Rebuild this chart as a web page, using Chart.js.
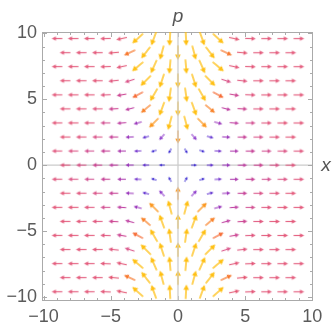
<!DOCTYPE html>
<html>
<head>
<meta charset="utf-8">
<script src="https://cdn.jsdelivr.net/npm/chart.js@4/dist/chart.umd.min.js"></script>
<style>
  html, body { margin: 0; background: #fff; }
  #wrap { width: 332px; height: 330px; }
</style>
</head>
<body>
<div id="wrap"><canvas id="field"></canvas></div>
<script>
// row heights (p), top to bottom
const rowP = [9.6, 8.53, 7.47, 6.4, 5.33, 4.27, 3.2, 2.13, 1.07, 0,
              -1.07, -2.13, -3.2, -4.27, -5.33, -6.4, -7.47, -8.53, -9.6];
// staggered columns: even rows use colsA, odd rows colsB
const colsA = [-9, -7.8, -6.6, -5.4, -4.2, -3, -1.8, -0.6, 0.6, 1.8, 3, 4.2, 5.4, 6.6, 7.8, 9];
const colsB = [-8.4, -7.2, -6, -4.8, -3.6, -2.4, -1.2, 0, 1.2, 2.4, 3.6, 4.8, 6, 7.2, 8.4];

// arrow direction in degrees (0 = +x, 90 = +p)
const angleRows = [
  [180,180,180,182,192,222,250,267,273,290,318,348,358,0,0,0],
  [180,180,180,185,205,232,255,270,285,308,335,355,0,0,0],
  [180,180,180,182,192,220,246,265,275,294,320,348,358,0,0,0],
  [180,180,180,186,198,225,252,270,288,315,342,354,0,0,0],
  [180,180,180,182,190,208,240,262,278,300,332,350,358,0,0,0],
  [180,180,180,183,195,220,250,270,290,320,345,357,0,0,0],
  [180,180,180,180,184,195,225,255,285,315,345,356,0,0,0,0],
  [180,180,180,180,183,195,228,270,312,345,357,0,0,0,0],
  [180,180,180,180,180,183,198,240,300,342,357,0,0,0,0,0],
  [180,180,180,180,180,180,180,null,0,0,0,0,0,0,0],
  [180,180,180,180,180,177,162,120,60,18,3,0,0,0,0,0],
  [180,180,180,180,177,165,132,90,48,15,3,0,0,0,0],
  [180,180,180,180,176,165,135,105,75,45,15,4,0,0,0,0],
  [180,180,180,177,165,140,110,90,70,40,15,3,0,0,0],
  [180,180,180,178,170,152,120,98,82,60,28,10,2,0,0,0],
  [180,180,180,174,162,135,108,90,72,45,18,6,0,0,0],
  [180,180,180,178,168,140,114,95,85,66,40,12,2,0,0,0],
  [180,180,180,175,155,128,105,90,75,52,25,5,0,0,0],
  [180,180,180,178,168,138,110,93,87,70,42,12,2,0,0,0]
];

// relative magnitude (0 = smallest/blue, 1 = largest/yellow)
const levelRows = [
  [.6,.6,.6,.6,.62,1,1,1,1,1,1,.62,.6,.6,.6,.6],
  [.6,.6,.6,.62,.78,1,1,1,1,1,.78,.62,.6,.6,.6],
  [.6,.6,.6,.6,.6,1,1,1,1,1,1,.6,.6,.6,.6,.6],
  [.6,.6,.6,.58,.55,1,1,1,1,1,.55,.58,.6,.6,.6],
  [.6,.6,.6,.58,.5,.75,1,1,1,1,.75,.5,.58,.6,.6,.6],
  [.6,.6,.58,.5,.45,.8,1,1,1,.8,.45,.5,.58,.6,.6],
  [.6,.6,.58,.52,.45,.35,.85,1,1,.85,.35,.45,.52,.58,.6,.6],
  [.6,.58,.55,.48,.35,.2,.3,.85,.3,.2,.35,.48,.55,.58,.6],
  [.58,.56,.52,.48,.4,.25,.1,.08,.08,.1,.25,.4,.48,.52,.56,.58],
  [.58,.55,.5,.45,.35,.2,.1,null,.1,.2,.35,.45,.5,.55,.58],
  [.58,.56,.52,.48,.4,.25,.1,.08,.08,.1,.25,.4,.48,.52,.56,.58],
  [.6,.58,.55,.48,.35,.2,.3,.85,.3,.2,.35,.48,.55,.58,.6],
  [.6,.6,.58,.52,.45,.35,.85,1,1,.85,.35,.45,.52,.58,.6,.6],
  [.6,.6,.58,.5,.45,.8,1,1,1,.8,.45,.5,.58,.6,.6],
  [.6,.6,.6,.58,.5,.75,1,1,1,1,.75,.5,.58,.6,.6,.6],
  [.6,.6,.6,.58,.55,1,1,1,1,1,.55,.58,.6,.6,.6],
  [.6,.6,.6,.6,.6,1,1,1,1,1,1,.6,.6,.6,.6,.6],
  [.6,.6,.6,.62,.78,1,1,1,1,1,.78,.62,.6,.6,.6],
  [.6,.6,.6,.6,.62,1,1,1,1,1,1,.62,.6,.6,.6,.6]
];

const tickVals = [-10, -5, 0, 5, 10];

// colour ramp blue -> purple -> red -> orange -> yellow
const ramp = [
  [0, [35, 35, 205]], [0.15, [70, 40, 210]], [0.3, [135, 50, 200]],
  [0.45, [190, 60, 160]], [0.58, [222, 75, 118]], [0.64, [228, 76, 100]],
  [0.76, [246, 108, 45]], [0.86, [252, 152, 20]], [1, [255, 190, 12]]
];
function colorFor(v) {
  for (let i = 1; i < ramp.length; i++) {
    if (v <= ramp[i][0]) {
      const [a, ca] = ramp[i - 1], [b, cb] = ramp[i];
      const t = (v - a) / (b - a);
      const c = ca.map((q, k) => Math.round(q + (cb[k] - q) * t));
      return `rgb(${c[0]},${c[1]},${c[2]})`;
    }
  }
  return 'rgb(255,190,12)';
}

const arrowCache = {};
function arrowImg(lvl) {
  if (arrowCache[lvl]) return arrowCache[lvl];
  const L = 5 + 9.5 * lvl;
  const hl = 1.4 + 0.27 * L;
  const hw = 0.7 + 0.15 * L;
  const lw = 0.9 + 0.5 * lvl;
  const cv = document.createElement('canvas');
  cv.width = Math.ceil(L + 4);
  cv.height = Math.ceil(2 * hw + 4);
  const g = cv.getContext('2d');
  const cx = cv.width / 2, cy = cv.height / 2;
  const col = colorFor(lvl);
  g.globalAlpha = lvl > 0.5 && lvl < 0.7 ? 0.85 : 0.95;
  g.strokeStyle = col;
  g.fillStyle = col;
  g.lineWidth = lw;
  g.beginPath();
  g.moveTo(cx - L / 2, cy);
  g.lineTo(cx + L / 2 - hl * 0.7, cy);
  g.stroke();
  g.beginPath();
  g.moveTo(cx + L / 2, cy);
  g.lineTo(cx + L / 2 - hl, cy - hw);
  g.lineTo(cx + L / 2 - hl, cy + hw);
  g.closePath();
  g.fill();
  arrowCache[lvl] = cv;
  return cv;
}

const points = [];
rowP.forEach((p, i) => {
  const cols = i % 2 === 0 ? colsA : colsB;
  cols.forEach((x, j) => {
    const lvl = levelRows[i][j];
    if (lvl == null) return;
    points.push({ x: x, y: p, ang: angleRows[i][j], lvl: lvl });
  });
});

const minus = v => v < 0 ? '\u2212' + Math.abs(v) : String(v);

const frame = {
  id: 'frame',
  beforeDatasetsDraw(chart) {
    const { ctx, chartArea: a, scales: { x, y } } = chart;
    ctx.save();
    // horizontal axis line
    ctx.strokeStyle = 'rgba(190,190,190,0.8)';
    ctx.lineWidth = 1.2;
    const y0 = y.getPixelForValue(0);
    ctx.beginPath(); ctx.moveTo(a.left, y0); ctx.lineTo(a.right, y0); ctx.stroke();
    // frame
    ctx.strokeStyle = '#aaaaaa';
    ctx.lineWidth = 1;
    ctx.strokeRect(a.left + 0.5, a.top + 0.5, a.right - a.left - 1, a.bottom - a.top - 1);
    for (let v = -10; v <= 10; v++) {
      const len = v % 5 === 0 ? 5 : 3;
      const px = Math.round(x.getPixelForValue(v)) + 0.5;
      const py = Math.round(y.getPixelForValue(v)) + 0.5;
      ctx.beginPath();
      ctx.moveTo(px, a.bottom); ctx.lineTo(px, a.bottom - len);
      ctx.moveTo(px, a.top); ctx.lineTo(px, a.top + len);
      ctx.moveTo(a.left, py); ctx.lineTo(a.left + len, py);
      ctx.moveTo(a.right, py); ctx.lineTo(a.right - len, py);
      ctx.stroke();
    }
    ctx.restore();
  },
  afterDatasetsDraw(chart) {
    const { ctx, chartArea: a, scales: { x, y } } = chart;
    ctx.save();
    ctx.strokeStyle = 'rgba(205,205,205,0.65)';
    ctx.lineWidth = 2;
    const x0 = x.getPixelForValue(0);
    ctx.beginPath(); ctx.moveTo(x0, a.top + 1); ctx.lineTo(x0, a.bottom - 1); ctx.stroke();
    ctx.fillStyle = '#555';
    ctx.font = 'italic 19px "Liberation Sans"';
    ctx.textAlign = 'center';
    ctx.textBaseline = 'alphabetic';
    ctx.fillText('p', x0, a.top - 10);
    ctx.fillText('x', a.right + 13, y.getPixelForValue(0) + 6);
    ctx.restore();
  }
};

new Chart(document.getElementById('field'), {
  type: 'scatter',
  data: {
    datasets: [{
      data: points,
      pointRadius: 3,
      pointStyle: c => arrowImg(c.raw.lvl),
      rotation: c => -c.raw.ang
    }]
  },
  options: {
    responsive: true,
    maintainAspectRatio: false,
    animation: false,
    events: [],
    devicePixelRatio: 1,
    layout: { padding: { left: 0, top: 32, right: 19, bottom: 0 } },
    plugins: { legend: { display: false }, tooltip: { enabled: false } },
    scales: {
      x: {
        min: -10.12, max: 10.05,
        grid: { display: false, drawTicks: false },
        border: { display: false },
        afterBuildTicks: s => { s.ticks = tickVals.map(v => ({ value: v })); },
        afterFit: s => { s.height = 29; },
        ticks: { padding: 5, color: '#5a5a5a', font: { family: 'Liberation Sans', size: 18 }, callback: v => minus(v), maxRotation: 0 }
      },
      y: {
        min: -10.3, max: 10.1,
        grid: { display: false, drawTicks: false },
        border: { display: false },
        afterBuildTicks: s => { s.ticks = tickVals.map(v => ({ value: v })); },
        afterFit: s => { s.width = 42; },
        ticks: { padding: 5, color: '#5a5a5a', font: { family: 'Liberation Sans', size: 18 }, callback: v => minus(v) }
      }
    }
  },
  plugins: [frame]
});
</script>
</body>
</html>
